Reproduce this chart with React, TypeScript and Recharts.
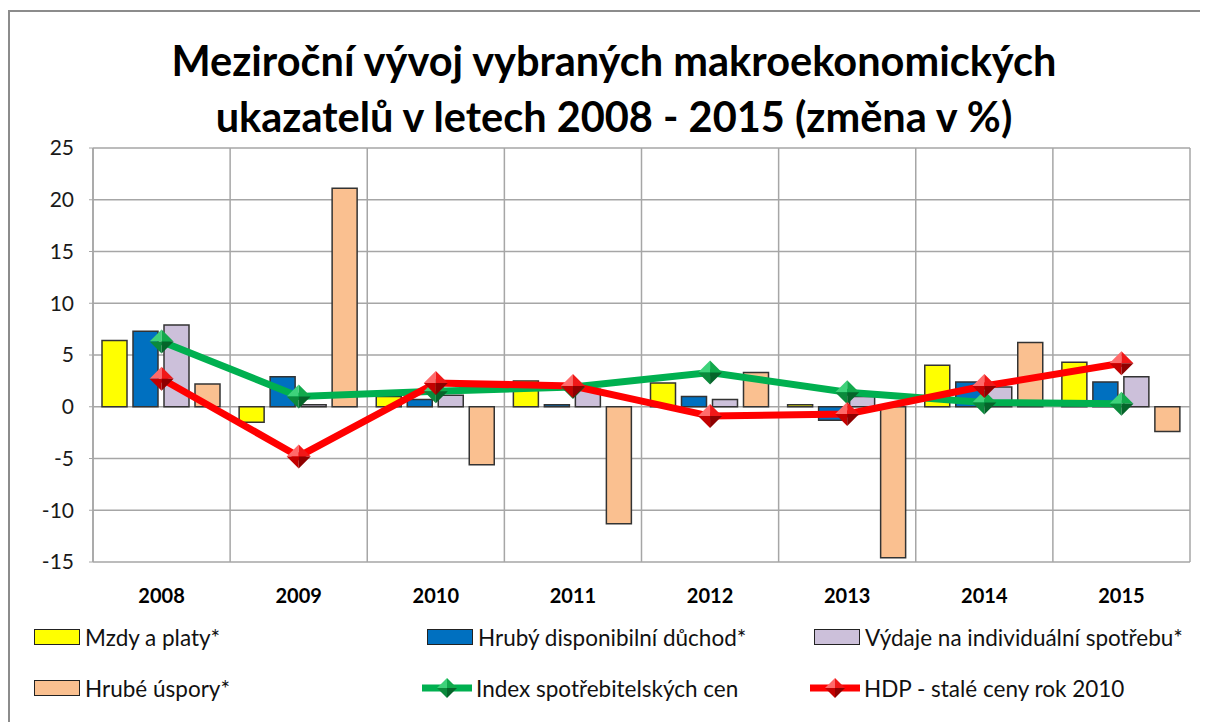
import {
  Bar,
  CartesianGrid,
  ComposedChart,
  Legend,
  Line,
  XAxis,
  YAxis,
} from "recharts";

const years = ["2008", "2009", "2010", "2011", "2012", "2013", "2014", "2015"];
const mzdy = [6.4, -1.5, 1.0, 2.5, 2.3, 0.2, 4.0, 4.3];
const duchod = [7.3, 2.9, 0.7, 0.2, 1.0, -1.3, 2.4, 2.4];
const vydaje = [7.9, 0.2, 1.1, 1.7, 0.7, 1.0, 1.9, 2.9];
const uspory = [2.2, 21.1, -5.6, -11.3, 3.3, -14.6, 6.2, -2.4];
const cpi = [6.3, 1.0, 1.5, 1.9, 3.3, 1.4, 0.4, 0.3];
const hdp = [2.7, -4.8, 2.3, 2.0, -0.9, -0.7, 2.0, 4.2];
const yTicks = [-15, -10, -5, 0, 5, 10, 15, 20, 25];

const data = years.map((rok, i) => ({
  rok,
  mzdy: mzdy[i],
  duchod: duchod[i],
  vydaje: vydaje[i],
  uspory: uspory[i],
  cpi: cpi[i],
  hdp: hdp[i],
}));

const FONT = "Lato, 'Liberation Sans', Arial, sans-serif";

const shades = {
  green: ["#3ed27a", "#12a94c", "#0b8a3c", "#05652a"],
  red: ["#ff6a6a", "#f01818", "#c40000", "#8e0000"],
};

function Diamond({ cx, cy, tone, r = 12 }: { cx: number; cy: number; tone: "green" | "red"; r?: number }) {
  const c = shades[tone];
  return (
    <g>
      <polygon points={`${cx - r},${cy} ${cx},${cy - r} ${cx},${cy}`} fill={c[0]} />
      <polygon points={`${cx},${cy - r} ${cx + r},${cy} ${cx},${cy}`} fill={c[1]} />
      <polygon points={`${cx - r},${cy} ${cx},${cy + r} ${cx},${cy}`} fill={c[2]} />
      <polygon points={`${cx},${cy + r} ${cx + r},${cy} ${cx},${cy}`} fill={c[3]} />
    </g>
  );
}

const legendItems = [
  { label: "Mzdy a platy*", kind: "bar", color: "#ffff00", left: 34, top: 16 },
  { label: "Hrubý disponibilní důchod*", kind: "bar", color: "#0070c0", left: 427, top: 16 },
  { label: "Výdaje na individuální spotřebu*", kind: "bar", color: "#ccc0da", left: 814, top: 16 },
  { label: "Hrubé úspory*", kind: "bar", color: "#fac090", left: 34, top: 67 },
  { label: "Index spotřebitelských cen", kind: "green", color: "#00b050", left: 422, top: 67 },
  { label: "HDP - stalé ceny rok 2010", kind: "red", color: "#ff0000", left: 810, top: 67 },
];

function LegendBox() {
  return (
    <div style={{ position: "relative", width: 1200, height: 100, fontFamily: FONT, fontSize: 22.5, color: "#111" }}>
      {legendItems.map((it) => (
        <div
          key={it.label}
          style={{ position: "absolute", left: it.left - 8, top: it.top, display: "flex", alignItems: "center", height: 18 }}
        >
          {it.kind === "bar" ? (
            <div style={{ width: 44, height: 14, background: it.color, border: "1.5px solid #222", marginRight: 5 }} />
          ) : (
            <svg width={50} height={24} style={{ marginRight: 4 }}>
              <line x1={0} y1={12} x2={50} y2={12} stroke={it.color} strokeWidth={7} />
              <Diamond cx={25} cy={12} tone={it.kind as "green" | "red"} r={10} />
            </svg>
          )}
          <span style={{ whiteSpace: "nowrap" }}>{it.label}</span>
        </div>
      ))}
    </div>
  );
}

function YearTick({ x, y, payload }: any) {
  return (
    <text x={x} y={y} dy={33} textAnchor="middle" fontFamily={FONT} fontWeight={700} fontSize={20} fill="#000">
      {payload.value}
    </text>
  );
}

export default function App() {
  return (
    <div style={{ position: "relative", width: 1200, height: 714, fontFamily: FONT }}>
      <div
        style={{
          position: "absolute",
          left: 0,
          top: 2,
          width: 1200,
          height: 740,
          borderLeft: "2px solid #8c8c8c",
          borderTop: "2px solid #8c8c8c",
          borderRight: "2px solid #8c8c8c",
          boxSizing: "border-box",
        }}
      />
      <div
        style={{
          position: "absolute",
          left: 0,
          top: 24,
          width: 1212,
          textAlign: "center",
          fontWeight: 700,
          fontSize: 41.5,
          lineHeight: "56px",
          color: "#000",
        }}
      >
        Meziroční vývoj vybraných makroekonomických
        <br />
        ukazatelů v letech 2008 - 2015 (změna v %)
      </div>
      <ComposedChart
        width={1200}
        height={714}
        data={data}
        margin={{ top: 140, right: 18, left: 25, bottom: 10 }}
        barCategoryGap={9}
        barGap={6}
      >
        <CartesianGrid
          stroke="#a6a6a6"
          strokeWidth={1.5}
          verticalCoordinatesGenerator={({ offset }: any) =>
            Array.from({ length: years.length + 1 }, (_, i) => offset.left + (i * offset.width) / years.length)
          }
        />
        <XAxis dataKey="rok" tick={<YearTick />} tickLine={false} axisLine={false} height={50} interval={0} />
        <YAxis
          domain={[-15, 25]}
          ticks={yTicks}
          width={60}
          tickSize={4}
          tickLine={{ stroke: "#a6a6a6" }}
          axisLine={{ stroke: "#a6a6a6", strokeWidth: 1.5 }}
          tick={{ fontFamily: FONT, fontSize: 21, fill: "#1a1a1a" }}
          tickMargin={15}
          interval={0}
        />
        <Legend verticalAlign="bottom" content={<LegendBox />} wrapperStyle={{ left: 0, width: 1200, height: 100 }} />
        <Bar dataKey="mzdy" name="Mzdy a platy*" fill="#ffff00" stroke="#333" strokeWidth={1.5} isAnimationActive={false} />
        <Bar dataKey="duchod" name="Hrubý disponibilní důchod*" fill="#0070c0" stroke="#333" strokeWidth={1.5} isAnimationActive={false} />
        <Bar dataKey="vydaje" name="Výdaje na individuální spotřebu*" fill="#ccc0da" stroke="#333" strokeWidth={1.5} isAnimationActive={false} />
        <Bar dataKey="uspory" name="Hrubé úspory*" fill="#fac090" stroke="#333" strokeWidth={1.5} isAnimationActive={false} />
        <Line
          dataKey="cpi"
          name="Index spotřebitelských cen"
          stroke="#00b050"
          strokeWidth={7}
          dot={(p: any) => <Diamond key={`g${p.index}`} cx={p.cx} cy={p.cy} tone="green" />}
          activeDot={false}
          isAnimationActive={false}
        />
        <Line
          dataKey="hdp"
          name="HDP - stalé ceny rok 2010"
          stroke="#ff0000"
          strokeWidth={7}
          dot={(p: any) => <Diamond key={`r${p.index}`} cx={p.cx} cy={p.cy} tone="red" />}
          activeDot={false}
          isAnimationActive={false}
        />
      </ComposedChart>
    </div>
  );
}
